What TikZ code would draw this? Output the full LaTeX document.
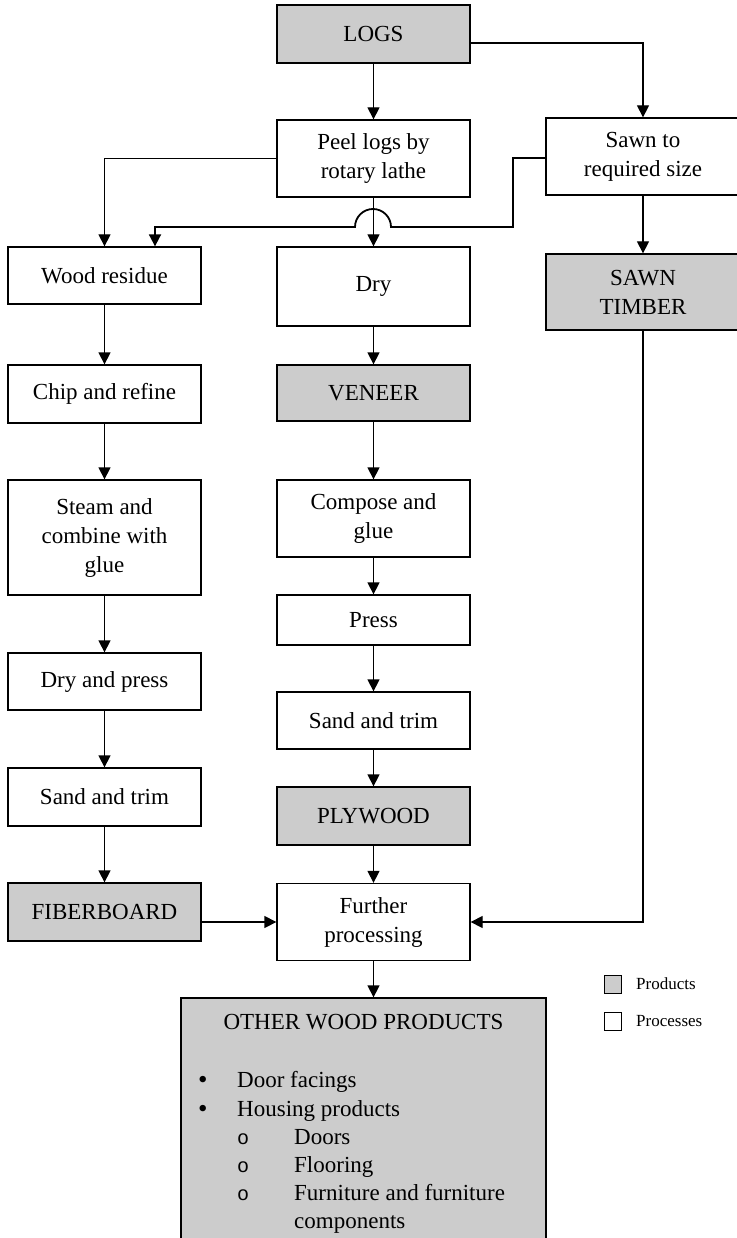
\documentclass[tikz,border=0pt]{standalone}
\usepackage{fontspec}
\setmainfont{Liberation Serif}
\newfontfamily\monofam{Liberation Mono}
\usetikzlibrary{arrows.meta}
\definecolor{prodfill}{RGB}{204,204,204}
\begin{document}
\begin{tikzpicture}[x=1pt,y=-1pt,
  box/.style={draw=black, line width=1.3pt, align=center, inner sep=0pt,
    font=\fontsize{23}{29}\selectfont},
  proc/.style={box, fill=white},
  prod/.style={box, fill=prodfill},
  colL/.style={minimum width=193pt},
  colM/.style={minimum width=193pt},
  colR/.style={minimum width=194pt},
  flow/.style={line width=1.3pt, -{Triangle[length=12pt,width=12pt]}},
  txt/.style={inner sep=0pt, anchor=base west, font=\fontsize{23}{29}\selectfont},
  subbullet/.style={inner sep=0pt, anchor=base west, font=\monofam\fontsize{20}{20}\selectfont},
  legsq/.style={draw=black, line width=0.8pt, minimum width=17pt, minimum height=18pt, inner sep=0pt},
  legtxt/.style={inner sep=0pt, anchor=west, font=\fontsize{17}{20}\selectfont}
]
\useasboundingbox (0,0) rectangle (736,1238);

% middle column: veneer / plywood line
\node[prod, colM, minimum height=58pt] (logs)    at (373.5,34)    {LOGS};
\node[proc, colM, minimum height=77pt] (peel)    at (373.5,158.5) {Peel logs by\\rotary lathe};
\node[proc, colM, minimum height=79pt] (dry)     at (373.5,286.5) {Dry};
\node[prod, colM, minimum height=56pt] (veneer)  at (373.5,393)   {VENEER};
\node[proc, colM, minimum height=77pt] (compose) at (373.5,518.5) {Compose and\\glue};
\node[proc, colM, minimum height=50pt] (press)   at (373.5,620)   {Press};
\node[proc, colM, minimum height=57pt] (sandM)   at (373.5,720.5) {Sand and trim};
\node[prod, colM, minimum height=58pt] (ply)     at (373.5,816)   {PLYWOOD};
\node[proc, colM, minimum height=77pt] (further) at (373.5,922)   {Further\\processing};

% left column: fiberboard line
\node[proc, colL, minimum height=57pt]  (wood)     at (104.5,275.5) {Wood residue};
\node[proc, colL, minimum height=58pt]  (chip)     at (104.5,394)   {Chip and refine};
\node[proc, colL, minimum height=115pt] (steam)    at (104.5,537.5) {Steam and\\combine with\\glue};
\node[proc, colL, minimum height=57pt]  (drypress) at (104.5,681.5) {Dry and press};
\node[proc, colL, minimum height=58pt]  (sandL)    at (104.5,797)   {Sand and trim};
\node[prod, colL, minimum height=58pt]  (fiber)    at (104.5,912)   {FIBERBOARD};

% right column: sawn timber line
\node[proc, colR, minimum height=77pt] (sawn)   at (643,156.5) {Sawn to\\required size};
\node[prod, colR, minimum height=76pt] (timber) at (643,292)   {SAWN\\TIMBER};

% final products
\node[prod, minimum width=365pt, minimum height=252pt] (other) at (363.5,1124) {};
\node[txt, anchor=base] (otitle) at (363.5,1029) {OTHER WOOD PRODUCTS};
\node[txt, font=\fontsize{27}{29}\selectfont] (b1) at (198,1088) {\textbullet};
\node[txt] (i1)  at (237,1087) {Door facings};
\node[txt, font=\fontsize{27}{29}\selectfont] (b2) at (198,1117) {\textbullet};
\node[txt] (i2)  at (237,1116) {Housing products};
\node[subbullet] (c1) at (237,1144) {o};
\node[txt] (s1)  at (294,1144) {Doors};
\node[subbullet] (c2) at (237,1172) {o};
\node[txt] (s2)  at (294,1172) {Flooring};
\node[subbullet] (c3) at (237,1200) {o};
\node[txt] (s3)  at (294,1200) {Furniture and furniture};
\node[txt] (s3b) at (294,1228) {components};

% legend
\node[legsq, fill=prodfill] (lgprod) at (613,984)  {};
\node[legtxt] (lgprodt) at (636,984)  {Products};
\node[legsq, fill=white]    (lgproc) at (613,1021) {};
\node[legtxt] (lgproct) at (636,1021) {Processes};

% connectors
\draw[flow] (logs) -- (peel);
\draw[flow] ([yshift=-9pt]logs.east) -| (sawn.north);
\draw[flow] (peel.west) -| (wood.north);
\draw[flow] (peel) -- (dry);
\draw[flow, line width=1.8pt] ([yshift=-1.5pt]sawn.west) -| (513,227) -- (391,227)
  arc[start angle=0, end angle=180, radius=18pt] -- (155,227) -- ([xshift=50.5pt]wood.north);
\draw[flow] (sawn) -- (timber);

\draw[flow] (wood) -- (chip);
\draw[flow] (chip) -- (steam);
\draw[flow] (steam) -- (drypress);
\draw[flow] (drypress) -- (sandL);
\draw[flow] (sandL) -- (fiber);

\draw[flow] (dry) -- (veneer);
\draw[flow] (veneer) -- (compose);
\draw[flow] (compose) -- (press);
\draw[flow] (press) -- (sandM);
\draw[flow] (sandM) -- (ply);
\draw[flow] (ply) -- (further);

\draw[flow] (fiber.east |- further.west) -- (further.west);
\draw[flow] (timber.south) |- (further.east);
\draw[flow] (further.south) -- (further.south |- other.north);
\end{tikzpicture}
\end{document}
